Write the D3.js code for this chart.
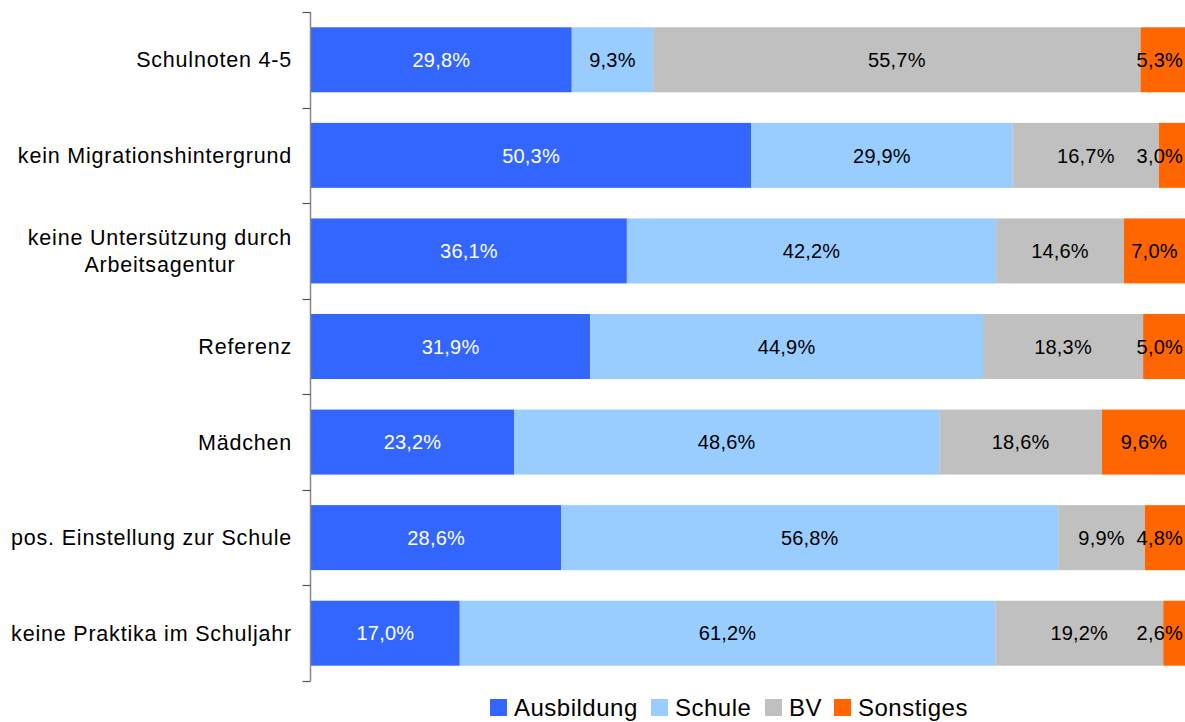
<!DOCTYPE html>
<html>
<head>
<meta charset="utf-8">
<script src="https://cdn.jsdelivr.net/npm/d3@7"></script>
<style>
  body { margin: 0; background: #fff; }
  text { font-family: "Liberation Sans", Arial, sans-serif; }
</style>
</head>
<body>
<svg id="chart" width="1185" height="722"></svg>
<script>
const categories = [
  ["Schulnoten 4-5"],
  ["kein Migrationshintergrund"],
  ["keine Untersützung durch", "Arbeitsagentur"],
  ["Referenz"],
  ["Mädchen"],
  ["pos. Einstellung zur Schule"],
  ["keine Praktika im Schuljahr"]
];
const seriesNames = ["Ausbildung", "Schule", "BV", "Sonstiges"];
const ausbildung = [29.8, 50.3, 36.1, 31.9, 23.2, 28.6, 17.0];
const schule     = [9.3, 29.9, 42.2, 44.9, 48.6, 56.8, 61.2];
const bv         = [55.7, 16.7, 14.6, 18.3, 18.6, 9.9, 19.2];
const sonstiges  = [5.3, 3.0, 7.0, 5.0, 9.6, 4.8, 2.6];
const colors = ["#3366ff", "#99ccff", "#c0c0c0", "#ff6600"];
const labelColors = ["#fff", "#000", "#000", "#000"];

const width = 1185, height = 722;
const margin = { top: 12, right: 0, bottom: 41, left: 311 };

const svg = d3.select("#chart");
const series = [ausbildung, schule, bv, sonstiges];

const rows = categories.map((c, i) => {
  const vals = series.map(s => s[i]);
  let acc = 0;
  return { idx: i, name: c, segs: vals.map((v, k) => {
    const seg = { k, v, x0: acc, x1: acc + v };
    acc += v;
    return seg;
  }) };
});

const x = d3.scaleLinear().domain([0, 100]).range([margin.left, width - margin.right + 1]);
const y = d3.scaleBand().domain(d3.range(categories.length))
  .range([margin.top, height - margin.bottom]).paddingInner(0.32).paddingOuter(0.16);

svg.append("defs").append("clipPath").attr("id", "clip")
  .append("rect").attr("x", margin.left).attr("y", 0).attr("width", width - margin.left).attr("height", height);

const g = svg.append("g").attr("clip-path", "url(#clip)");
const rowG = g.selectAll("g.row").data(rows).enter().append("g").attr("class", "row");

rowG.selectAll("rect").data(d => d.segs.map(s => ({ ...s, row: d.idx })))
  .enter().append("rect")
  .attr("x", d => x(d.x0))
  .attr("width", d => x(d.x1) - x(d.x0))
  .attr("y", d => y(d.row))
  .attr("height", y.bandwidth())
  .attr("fill", d => colors[d.k]);

const fmt = v => v.toFixed(1).replace(".", ",") + "%";
svg.append("g").selectAll("g").data(rows).enter().append("g")
  .selectAll("text").data(d => d.segs.map(s => ({ ...s, row: d.idx })))
  .enter().append("text")
  .attr("y", d => y(d.row) + y.bandwidth() / 2)
  .attr("dy", "0.36em")
  .attr("text-anchor", "middle")
  .attr("font-size", 20)
  .attr("letter-spacing", 0.2)
  .attr("fill", d => labelColors[d.k])
  .text(d => fmt(d.v))
  .each(function (d) {
    const w = this.getComputedTextLength();
    let cx = (x(d.x0) + x(Math.min(d.x1, 100))) / 2;
    cx = Math.min(cx, width - 2 - w / 2);
    d3.select(this).attr("x", cx);
  });

// category axis
const axisG = svg.append("g").attr("transform", `translate(${margin.left - 0.5},0)`);
axisG.append("line")
  .attr("y1", margin.top).attr("y2", height - margin.bottom)
  .attr("stroke", "#888").attr("stroke-width", 1.5);
const step = y.step();
const tickYs = d3.range(categories.length + 1).map(i => y(0) - y.paddingOuter() * step + i * step);
axisG.selectAll("line.tick").data(tickYs).enter().append("line")
  .attr("class", "tick")
  .attr("x1", -8).attr("x2", 0)
  .attr("y1", d => Math.round(d) + 0.5).attr("y2", d => Math.round(d) + 0.5)
  .attr("stroke", "#555").attr("stroke-width", 1.2);

const catText = svg.append("g").selectAll("text").data(rows).enter().append("text")
  .attr("font-size", 21.5)
  .attr("letter-spacing", 0.8)
  .attr("fill", "#000")
  .attr("text-anchor", "middle");
catText.each(function (d) {
  const t = d3.select(this);
  const n = d.name.length;
  const lh = 27;
  const cy = y(d.idx) + y.bandwidth() / 2;
  d.name.forEach((line, j) => {
    t.append("tspan").attr("y", cy + (j - (n - 1) / 2) * lh).attr("dy", "0.35em").text(line);
  });
  let maxW = 0;
  t.selectAll("tspan").each(function () { maxW = Math.max(maxW, this.getComputedTextLength()); });
  t.selectAll("tspan").attr("x", 292 - maxW / 2);
});

// legend
const legendX = [490, 651, 765, 834];
const legend = svg.append("g").attr("transform", "translate(0,699)");
seriesNames.forEach((name, k) => {
  const item = legend.append("g").attr("transform", `translate(${legendX[k]},0)`);
  item.append("rect").attr("width", 17).attr("height", 17).attr("fill", colors[k]);
  item.append("text").attr("x", 24).attr("y", 8.5).attr("dy", "0.36em")
    .attr("font-size", 24).attr("letter-spacing", 0.5).attr("fill", "#000").text(name);
});
</script>
</body>
</html>
